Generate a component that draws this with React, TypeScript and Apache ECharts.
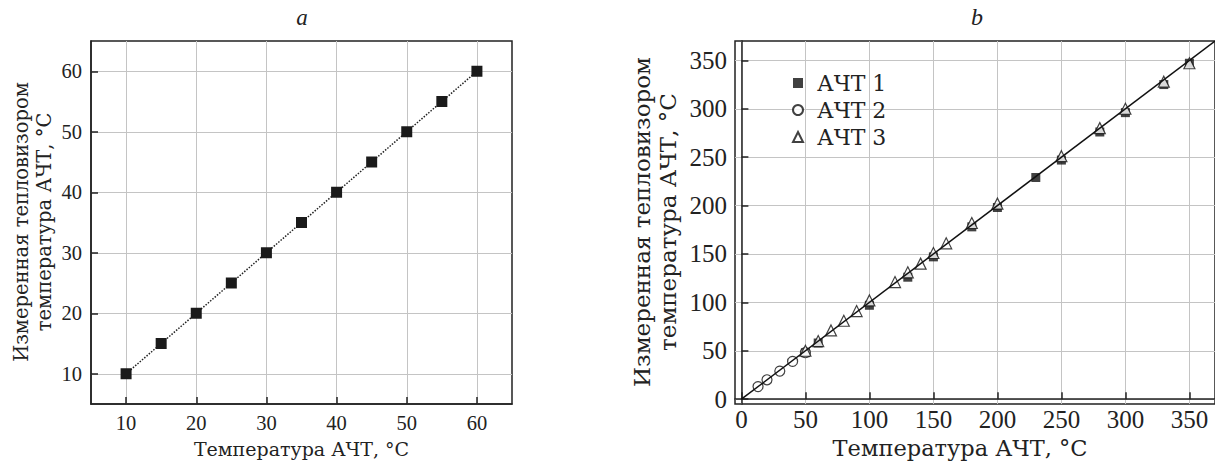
import React, { useEffect, useRef } from "react";
import * as echarts from "echarts";

// Panel a
const aX = [10, 15, 20, 25, 30, 35, 40, 45, 50, 55, 60];
const aY = [10, 15, 20, 25, 30, 35, 40, 45, 50, 55, 60];
const aTicks = [10, 20, 30, 40, 50, 60];

// Panel b
const b1X = [50, 60, 100, 130, 150, 180, 200, 230, 250, 280, 300, 330, 350];
const b1Y = [48, 58, 97, 126, 147, 178, 198, 229, 247, 276, 296, 325, 347];
const b2X = [13, 20, 30, 40, 50];
const b2Y = [13, 20, 29, 39, 48];
const b3X = [50, 60, 70, 80, 90, 100, 120, 130, 140, 150, 160, 180, 200, 250, 280, 300, 330, 350];
const b3Y = [50, 60, 71, 81, 91, 102, 121, 131, 140, 151, 161, 182, 202, 251, 280, 300, 328, 347];
const fitX = [0, 370];
const fitY = [0, 370];
const bTicks = [0, 50, 100, 150, 200, 250, 300, 350];
const legendNames = ["АЧТ 1", "АЧТ 2", "АЧТ 3"];

const zip = (xs: number[], ys: number[]) => xs.map((x, i) => [x, ys[i]]);

const DARK = "#222";
const GRID = "#c4c4c4";

function axisCommon(ticks: number[], fontSize: number, margin: number) {
  return {
    type: "value" as const,
    axisLine: { show: true, lineStyle: { color: DARK, width: 1.5 } },
    axisTick: { show: true, inside: true, length: 7, customValues: ticks, lineStyle: { color: DARK, width: 1.5 } },
    axisLabel: {
      customValues: ticks,
      fontFamily: "Liberation Serif",
      fontSize,
      color: DARK,
      margin,
    },
    splitLine: { show: true, lineStyle: { color: GRID, width: 1 } },
  };
}

function rotText(text: string, x: number, y: number, size: number) {
  return {
    type: "text",
    x,
    y,
    rotation: Math.PI / 2,
    style: {
      text,
      font: `${size}px 'DejaVu Serif'`,
      fill: DARK,
      textAlign: "center",
      textVerticalAlign: "middle",
      align: "center",
      verticalAlign: "middle",
    },
  };
}

function titleText(text: string, x: number, y: number, size: number) {
  return {
    type: "text",
    x,
    y,
    style: {
      text,
      font: `italic ${size}px 'Liberation Serif'`,
      fill: DARK,
      textAlign: "center",
      textVerticalAlign: "middle",
      align: "center",
      verticalAlign: "middle",
    },
  };
}

export default function App() {
  const ref = useRef<HTMLDivElement>(null);
  useEffect(() => {
    if (!ref.current) return;
    const chart = echarts.init(ref.current, undefined, { renderer: "svg" });
    chart.setOption({
      animation: false,
      backgroundColor: "#fff",
      grid: [
        { left: 91, top: 41, width: 421, height: 363, show: true, borderColor: DARK, borderWidth: 1.5 },
        { left: 735, top: 41, width: 484, height: 363, show: true, borderColor: DARK, borderWidth: 1.5 },
      ],
      xAxis: [
        {
          ...axisCommon(aTicks, 20.5, 8),
          gridIndex: 0,
          min: 5,
          max: 65,
          name: "Температура АЧТ, °С",
          nameLocation: "middle",
          nameGap: 35,
          nameTextStyle: { fontFamily: "DejaVu Serif", fontSize: 19, color: DARK },
        },
        {
          ...axisCommon(bTicks, 25, 3),
          gridIndex: 1,
          min: -5,
          max: 370,
          name: "Температура АЧТ, °С",
          nameLocation: "middle",
          nameGap: 32,
          nameTextStyle: { fontFamily: "DejaVu Serif", fontSize: 22.5, color: DARK, padding: [0, 30, 0, 0] },
        },
      ],
      yAxis: [
        { ...axisCommon(aTicks, 20.5, 9), gridIndex: 0, min: 5, max: 65 },
        { ...axisCommon(bTicks, 25, 8), gridIndex: 1, min: -5, max: 370 },
      ],
      legend: {
        data: legendNames,
        orient: "vertical",
        left: 792,
        top: 72,
        padding: 0,
        itemWidth: 10,
        itemHeight: 10,
        itemGap: 5,
        textStyle: { fontFamily: "DejaVu Serif", fontSize: 22, color: DARK, padding: [0, 0, 0, 9] },
      },
      graphic: [
        titleText("a", 302, 17, 23),
        titleText("b", 977, 17, 24),
        rotText("Измеренная тепловизором", 21, 222, 19.5),
        rotText("температура АЧТ, °С", 44, 222, 19.5),
        rotText("Измеренная тепловизором", 642, 222, 23),
        rotText("температура АЧТ, °С", 668, 222, 23),
      ],
      series: [
        {
          type: "line",
          xAxisIndex: 0,
          yAxisIndex: 0,
          data: zip(aX, aY),
          symbol: "rect",
          symbolSize: 11,
          showSymbol: true,
          itemStyle: { color: "#1a1a1a" },
          lineStyle: { color: DARK, width: 1.5, type: "dotted" },
        },
        {
          name: legendNames[0],
          type: "scatter",
          xAxisIndex: 1,
          yAxisIndex: 1,
          data: zip(b1X, b1Y),
          symbol: "rect",
          symbolSize: 9,
          itemStyle: { color: "#111" },
          z: 2,
        },
        {
          name: legendNames[1],
          type: "scatter",
          xAxisIndex: 1,
          yAxisIndex: 1,
          data: zip(b2X, b2Y),
          symbol: "circle",
          symbolSize: 10,
          itemStyle: { color: "#fff", borderColor: "#111", borderWidth: 1.2 },
          z: 3,
        },
        {
          name: legendNames[2],
          type: "scatter",
          xAxisIndex: 1,
          yAxisIndex: 1,
          data: zip(b3X, b3Y),
          symbol: "triangle",
          symbolSize: 11,
          itemStyle: { color: "#fff", borderColor: "#111", borderWidth: 1.2 },
          z: 4,
        },
        {
          type: "line",
          xAxisIndex: 1,
          yAxisIndex: 1,
          data: zip(fitX, fitY),
          symbol: "none",
          lineStyle: { color: "#111", width: 1.5 },
          z: 5,
        },
      ],
    });
    return () => chart.dispose();
  }, []);
  return (
    <div
      ref={ref}
      style={{ position: "absolute", left: 0, top: 0, width: 1215, height: 468, background: "#fff" }}
    />
  );
}
